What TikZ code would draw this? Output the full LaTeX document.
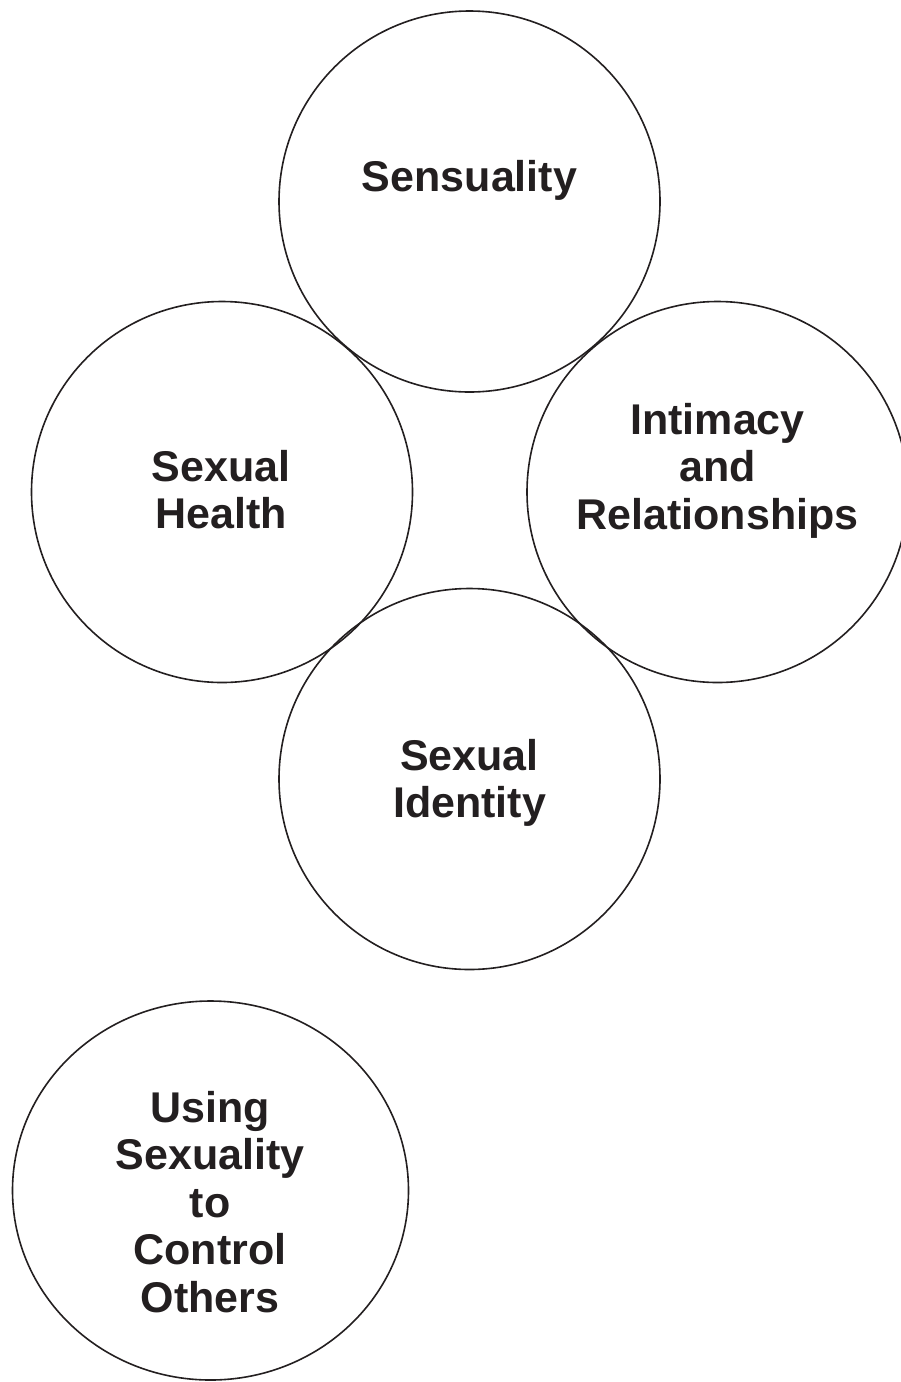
\documentclass[tikz,border=0pt]{standalone}
\usepackage{fontspec}
\setmainfont{Liberation Sans}
\usetikzlibrary{shapes.geometric}
\tikzstyle{every path}=[line width=1.6pt]
\definecolor{ink}{RGB}{35,31,32}
\tikzstyle{area} = [draw=ink, line width=1.6pt, circle, minimum size=381pt,
    inner sep=0pt]
\tikzstyle{areatext} = [text=ink, align=center, inner sep=0pt,
    font=\fontsize{43}{47.5}\selectfont\bfseries]

\begin{document}
\begin{tikzpicture}[x=1pt, y=-1pt]
            \useasboundingbox (0, 0) rectangle (901, 1382);

            \node[area] (sens) at (469.5, 201.5) {};
            \node[area] (health) at (222, 492) {};
            \node[area] (intim) at (717.5, 492) {};
            \node[area] (ident) at (469.5, 779) {};
            \node[area, ellipse, minimum width=396pt, minimum height=379pt]
                (control) at (210.5, 1190.5) {};

            \node[areatext] (sens-txt) at (469.5, 180) {Sensuality};
            \node[areatext] (health-txt) at (221, 489.5) {Sexual\\Health};
            \node[areatext] (intim-txt) at (717.5, 470.5)
                {Intimacy\\and\\Relationships};
            \node[areatext] (ident-txt) at (469.5, 783) {Sexual\\Identity};
            \node[areatext] (control-txt) at (210, 1201.7)
                {Using\\Sexuality\\to\\Control\\Others};
        \end{tikzpicture}
\end{document}
